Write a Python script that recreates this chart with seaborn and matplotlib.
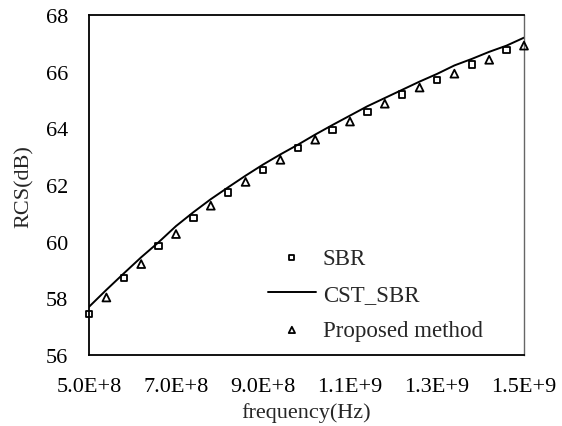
import numpy as np
import pandas as pd
import matplotlib
matplotlib.use("Agg")
import matplotlib.pyplot as plt
import seaborn as sns

# Data (frequency in Hz, RCS in dB)
sbr_freq = [5.0e8, 5.8e8, 6.6e8, 7.4e8, 8.2e8, 9.0e8, 9.8e8, 1.06e9, 1.14e9,
            1.22e9, 1.30e9, 1.38e9, 1.46e9]
sbr_rcs = [57.44, 58.72, 59.84, 60.83, 61.74, 62.53, 63.31, 63.94, 64.57,
           65.20, 65.70, 66.26, 66.77]

prop_freq = [5.4e8, 6.2e8, 7.0e8, 7.8e8, 8.6e8, 9.4e8, 1.02e9, 1.10e9, 1.18e9,
             1.26e9, 1.34e9, 1.42e9, 1.50e9]
prop_rcs = [58.03, 59.21, 60.27, 61.27, 62.11, 62.89, 63.60, 64.24, 64.87,
            65.44, 65.93, 66.42, 66.92]

cst_freq = [5.0e8, 5.4e8, 5.8e8, 6.2e8, 6.6e8, 7.0e8, 7.4e8, 7.8e8, 8.2e8,
            8.6e8, 9.0e8, 9.4e8, 9.8e8, 1.02e9, 1.06e9, 1.10e9, 1.14e9, 1.18e9,
            1.22e9, 1.26e9, 1.30e9, 1.34e9, 1.38e9, 1.42e9, 1.46e9, 1.50e9]
cst_rcs = [57.70, 58.30, 58.88, 59.45, 59.98, 60.55, 61.04, 61.50, 61.92,
           62.33, 62.72, 63.08, 63.42, 63.78, 64.12, 64.45, 64.78, 65.07,
           65.36, 65.65, 65.92, 66.22, 66.45, 66.70, 66.92, 67.20]

x_ticks = [5.0e8, 7.0e8, 9.0e8, 1.1e9, 1.3e9, 1.5e9]
x_tick_labels = ["5.0E+8", "7.0E+8", "9.0E+8", "1.1E+9", "1.3E+9", "1.5E+9"]
y_ticks = [56, 58, 60, 62, 64, 66, 68]

sns.set_style("white")
plt.rcParams["font.family"] = ["Liberation Serif", "DejaVu Serif"]

fig = plt.figure(figsize=(5.62, 4.27), dpi=100)
ax = fig.add_axes([89 / 562, 1 - 356 / 427, (524 - 89) / 562, (356 - 16) / 427])

df_sbr = pd.DataFrame({"f": sbr_freq, "rcs": sbr_rcs})
df_cst = pd.DataFrame({"f": cst_freq, "rcs": cst_rcs})
df_prop = pd.DataFrame({"f": prop_freq, "rcs": prop_rcs})

sns.scatterplot(data=df_sbr, x="f", y="rcs", ax=ax, marker="s", s=22,
                facecolor="none", edgecolor="black", linewidth=1.3,
                label="SBR", zorder=3, clip_on=False)
sns.lineplot(data=df_cst, x="f", y="rcs", ax=ax, color="black", linewidth=1.4,
             label="CST_SBR", zorder=2)
sns.scatterplot(data=df_prop, x="f", y="rcs", ax=ax, marker="^", s=32,
                facecolor="none", edgecolor="black", linewidth=1.3,
                label="Proposed method", zorder=3, clip_on=False)

ax.set_xlim(5.0e8, 1.5e9)
ax.set_ylim(56, 68)
ax.set_xticks(x_ticks)
ax.set_xticklabels(x_tick_labels)
ax.set_yticks(y_ticks)
ax.tick_params(axis="both", direction="in", length=4, width=1, colors="black",
               labelsize=16)
ax.tick_params(axis="y", pad=15)
ax.tick_params(axis="x", pad=16)
ax.set_xlabel("frequency(Hz)", fontsize=16, labelpad=4)
ax.set_ylabel("RCS(dB)", fontsize=16)
ax.yaxis.set_label_coords(-0.126, 0.497)

for side in ["left", "bottom", "top"]:
    ax.spines[side].set_color("black")
    ax.spines[side].set_linewidth(1.3)
ax.spines["right"].set_color("#666666")
ax.spines["right"].set_linewidth(1.0)

leg = ax.legend(loc="upper left", bbox_to_anchor=(0.39, 0.343), frameon=False,
                fontsize=16.5, handlelength=2.1, handletextpad=0.3,
                labelspacing=0.66, borderaxespad=0, markerscale=0.8)

fig.savefig("out.png", dpi=100)
